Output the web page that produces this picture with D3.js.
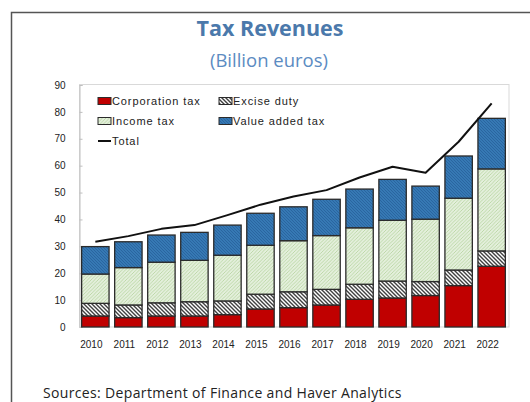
<!DOCTYPE html>
<html>
<head>
<meta charset="utf-8">
<script src="https://cdn.jsdelivr.net/npm/d3@7"></script>
<style>
  html, body { margin: 0; padding: 0; background: #fff; }
  svg { display: block; }
</style>
</head>
<body>
<svg id="chart" width="530" height="402"></svg>
<script>
// ---- Data (billion euros) ----
const years = ["2010","2011","2012","2013","2014","2015","2016","2017","2018","2019","2020","2021","2022"];
const corporationTax = [4.1, 3.5, 4.1, 4.1, 4.6, 6.7, 7.2, 8.2, 10.3, 10.8, 11.7, 15.4, 22.6];
const exciseDuty     = [4.7, 4.7, 4.9, 5.3, 5.1, 5.5, 5.9, 5.8, 5.6, 6.3, 5.2, 5.8, 5.7];
const incomeTax      = [10.9, 13.9, 15.1, 15.4, 17.0, 18.2, 19.0, 20.0, 21.0, 22.6, 23.2, 26.7, 30.5];
const valueAddedTax  = [10.2, 9.6, 10.1, 10.4, 11.2, 11.9, 12.6, 13.5, 14.4, 15.2, 12.3, 15.7, 18.8];
const total          = [31.7, 33.8, 36.5, 37.9, 41.6, 45.5, 48.5, 50.9, 55.6, 59.6, 57.4, 68.9, 83.2];
const yTicks = [0, 10, 20, 30, 40, 50, 60, 70, 80, 90];
const seriesKeys = ["corp", "excise", "income", "vat"];
const seriesNames = ["Corporation tax", "Excise duty", "Income tax", "Value added tax"];

const table = years.map((y, i) => ({
  year: y, corp: corporationTax[i], excise: exciseDuty[i], income: incomeTax[i], vat: valueAddedTax[i], total: total[i]
}));

const svg = d3.select("#chart");
const defs = svg.append("defs");

function hatch(id, bg, line, w, size, dir) {
  const p = defs.append("pattern").attr("id", id).attr("patternUnits", "userSpaceOnUse")
    .attr("width", size).attr("height", size);
  p.append("rect").attr("width", size).attr("height", size).attr("fill", bg);
  const d = dir === "down"
    ? `M0,0 L${size},${size} M${-size},0 L${size},${2*size} M0,${-size} L${2*size},${size}`
    : `M0,${size} L${size},0 M${-size},${size} L${size},${-size} M0,${2*size} L${2*size},0`;
  p.append("path").attr("d", d).attr("stroke", line).attr("stroke-width", w);
}
hatch("pExcise", "#ffffff", "#404040", 1.4, 4, "down");
hatch("pIncome", "#e4efdc", "#b3d39c", 0.8, 3.5, "up");
hatch("pVat", "#3679b4", "#27609a", 0.8, 3, "down");
const fills = { corp: "#c00000", excise: "url(#pExcise)", income: "url(#pIncome)", vat: "url(#pVat)" };

// outer frame
svg.append("path").attr("d", "M11.5,402 L11.5,12.5 L530,12.5")
  .attr("fill", "none").attr("stroke", "#555").attr("stroke-width", 1.5);

// titles
svg.append("text").attr("x", 270).attr("y", 36).attr("text-anchor", "middle")
  .attr("font-family", "Open Sans, Liberation Sans, sans-serif").attr("font-weight", "bold")
  .attr("font-size", 21.5).attr("fill", "#4b79ab").text("Tax Revenues");
svg.append("text").attr("x", 269).attr("y", 67).attr("text-anchor", "middle")
  .attr("font-family", "Open Sans, Liberation Sans, sans-serif")
  .attr("font-size", 18.5).attr("fill", "#5b8bc2").text("(Billion euros)");

// scales
const x = d3.scaleBand().domain(years).range([79, 508]).paddingInner(0.17).paddingOuter(0.08);
const y = d3.scaleLinear().domain([0, 90]).range([327, 85]);

// plot frame
svg.append("rect").attr("x", 79.5).attr("y", 84.5).attr("width", 429.5).attr("height", 242.5)
  .attr("fill", "none").attr("stroke", "#d9d9d9").attr("stroke-width", 1);

// y axis
const yAxis = d3.axisLeft(y).tickValues(yTicks).tickSize(-3).tickPadding(14).tickFormat(d3.format("d"));
const gy = svg.append("g").attr("transform", "translate(79.5,0)").call(yAxis);
gy.select(".domain").attr("stroke", "#bfbfbf");
gy.selectAll(".tick line").attr("stroke", "#bfbfbf");
gy.selectAll(".tick text").attr("font-family", "Liberation Sans, Arial, sans-serif")
  .attr("font-size", 10).attr("fill", "#222");

// x axis labels
const xAxis = d3.axisBottom(x).tickSize(0).tickPadding(0);
const gx = svg.append("g").attr("transform", "translate(-4,341)").call(xAxis);
gx.select(".domain").remove();
gx.selectAll(".tick text").attr("font-family", "Liberation Sans, Arial, sans-serif")
  .attr("font-size", 10).attr("fill", "#222").attr("dy", "0.71em");

// stacked bars
const stack = d3.stack().keys(seriesKeys)(table);
svg.append("g").selectAll("g").data(stack).join("g")
  .attr("fill", d => fills[d.key])
  .selectAll("rect").data(d => d).join("rect")
  .attr("x", d => x(d.data.year))
  .attr("y", d => y(d[1]))
  .attr("width", x.bandwidth())
  .attr("height", d => y(d[0]) - y(d[1]))
  .attr("stroke", "#2b2b2b").attr("stroke-width", 1.3);

// total line
const line = d3.line().x(d => x(d.year) + x.bandwidth() / 2).y(d => y(d.total)).curve(d3.curveLinear);
svg.append("path").datum(table).attr("d", line)
  .attr("fill", "none").attr("stroke", "#111").attr("stroke-width", 2).attr("stroke-linejoin", "round");

// legend
const legendItems = [
  { name: seriesNames[0], key: "corp", x: 98, y: 101 },
  { name: seriesNames[1], key: "excise", x: 219, y: 101 },
  { name: seriesNames[2], key: "income", x: 98, y: 121 },
  { name: seriesNames[3], key: "vat", x: 219, y: 121 }
];
const lg = svg.append("g");
legendItems.forEach(it => {
  lg.append("rect").attr("x", it.x).attr("y", it.y - 3.5).attr("width", 13).attr("height", 7)
    .attr("fill", fills[it.key]).attr("stroke", "#2b2b2b").attr("stroke-width", 1);
  lg.append("text").attr("x", it.x + 14).attr("y", it.y + 4)
    .attr("font-family", "Liberation Sans, Arial, sans-serif").attr("font-size", 11)
    .attr("letter-spacing", 0.9).attr("fill", "#222").text(it.name);
});
lg.append("line").attr("x1", 98).attr("x2", 111).attr("y1", 141).attr("y2", 141)
  .attr("stroke", "#111").attr("stroke-width", 2);
lg.append("text").attr("x", 112).attr("y", 145)
  .attr("font-family", "Liberation Sans, Arial, sans-serif").attr("font-size", 11)
  .attr("letter-spacing", 0.9).attr("fill", "#222").text("Total");

// source
svg.append("text").attr("x", 43).attr("y", 398)
  .attr("font-family", "Open Sans, Liberation Sans, sans-serif").attr("font-size", 14)
  .attr("letter-spacing", 0.35).attr("fill", "#222").text("Sources: Department of Finance and Haver Analytics");
</script>
</body>
</html>
